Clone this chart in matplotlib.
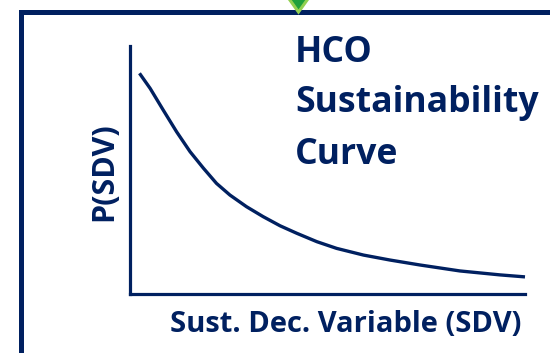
import matplotlib.pyplot as plt
from matplotlib.patches import Rectangle, Polygon

# curve readings: sustainability decision variable vs probability
sdv = [0.24, 0.51, 0.84, 1.18, 1.52, 1.86, 2.19, 2.53, 2.95, 3.37, 3.80, 4.22,
       4.73, 5.23, 5.91, 6.58, 7.34, 8.35, 9.37, 10.0]
p_sdv = [8.90, 8.29, 7.42, 6.54, 5.74, 5.07, 4.46, 3.99, 3.52, 3.12, 2.75, 2.45,
         2.11, 1.84, 1.57, 1.37, 1.17, 0.93, 0.77, 0.69]

title_lines = ["HCO", "Sustainability", "Curve"]
x_label = "Sust. Dec. Variable (SDV)"
y_label = "P(SDV)"

navy = "#002060"
W, H = 550, 353


def fx(x):
    return x / W


def fy(y):
    return 1 - y / H


fig = plt.figure(figsize=(5.5, 3.53), dpi=100)
fig.patch.set_facecolor("white")

# outer frame, runs off the right and bottom edges
frame = Rectangle((fx(21), -0.2), 1.5, fy(11.5) + 0.2, transform=fig.transFigure,
                  fill=False, edgecolor=navy, linewidth=3.6, clip_on=False)
fig.patches.append(frame)

# green marker at the top of the frame
arrow = Polygon([(fx(287), fy(-4)), (fx(310), fy(-4)), (fx(298.5), fy(12))],
                closed=True, transform=fig.transFigure, facecolor="#1fa03c",
                edgecolor="#92d050", linewidth=2.2, zorder=5)
fig.patches.append(arrow)

ax = fig.add_axes([fx(130), fy(294), (525 - 130) / W, (294 - 46) / H])
ax.plot(sdv, p_sdv, color=navy, linewidth=2.4, clip_on=False, solid_capstyle="butt",
        solid_joinstyle="round")
ax.set_xlim(0, 10)
ax.set_ylim(0, 10)
for side in ["top", "right"]:
    ax.spines[side].set_visible(False)
for side in ["left", "bottom"]:
    ax.spines[side].set_color(navy)
    ax.spines[side].set_linewidth(2.3)
ax.set_xticks([])
ax.set_yticks([])
ax.patch.set_alpha(0)

font = ["Open Sans", "DejaVu Sans"]
for line, base in zip(title_lines, [62, 112, 164]):
    fig.text(fx(295), fy(base), line, family=font, fontweight="bold", fontsize=25.7,
             color=navy, ha="left", va="baseline")

fig.text(fx(345.5), fy(325), x_label, family=font, fontweight="bold", fontsize=21,
         color=navy, ha="center", va="center")
fig.text(fx(104), fy(172), y_label, family=font, fontweight="bold", fontsize=22,
         color=navy, ha="center", va="center", rotation=90)

fig.savefig("out.png", dpi=100)
